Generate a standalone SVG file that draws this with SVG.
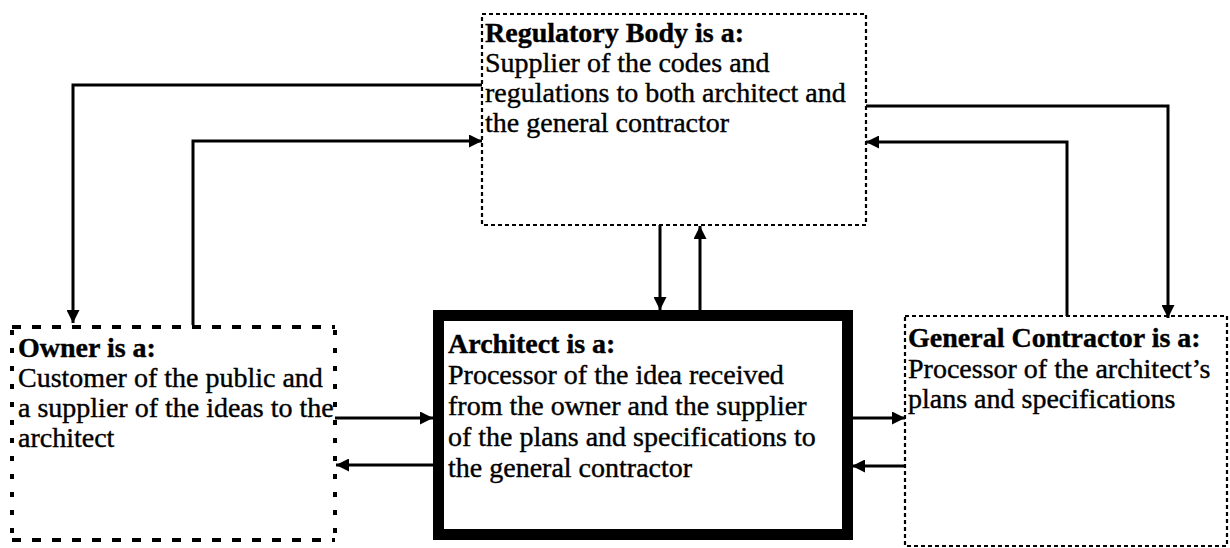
<svg xmlns="http://www.w3.org/2000/svg" width="1230" height="548" viewBox="0 0 1230 548">
<defs>
<style>
.t{font-family:"Liberation Serif","Times New Roman",serif;font-size:28px;fill:#000;stroke:#000;stroke-width:0.4}
.h{font-weight:bold}
.fine{fill:none;stroke:#000;stroke-width:2.2;stroke-dasharray:4 3}
.hd{fill:none;stroke:#000;stroke-width:4;stroke-dasharray:9 11}
.vd{fill:none;stroke:#000;stroke-width:4;stroke-dasharray:5 13}
.thick{fill:none;stroke:#000;stroke-width:11}
.c{fill:none;stroke:#000;stroke-width:3}
</style>
<marker id="ah" viewBox="0 0 13 13" refX="13" refY="6.5" markerWidth="13" markerHeight="13" markerUnits="userSpaceOnUse" orient="auto">
<path d="M0,0 L13,6.5 L0,13 Z" fill="#000"/>
</marker>
</defs>
<rect width="1230" height="548" fill="#fff"/>

<g id="regulatory">
<rect class="fine" x="482" y="14" width="384" height="211"/>
<text class="t h" x="485" y="42">Regulatory Body is a:</text>
<text class="t" x="485" y="72">Supplier of the codes and</text>
<text class="t" x="485" y="102">regulations to both architect and</text>
<text class="t" x="485" y="132">the general contractor</text>
</g>

<g id="owner">
<line class="hd" x1="12" y1="327" x2="335" y2="327"/>
<line class="hd" x1="12" y1="540" x2="335" y2="540"/>
<line class="vd" x1="12" y1="330" x2="12" y2="540"/>
<line class="vd" x1="335" y1="330" x2="335" y2="540"/>
<text class="t h" x="18" y="357">Owner is a:</text>
<text class="t" x="18" y="387">Customer of the public and</text>
<text class="t" x="18" y="417">a supplier of the ideas to the</text>
<text class="t" x="18" y="447">architect</text>
</g>

<g id="architect">
<rect class="thick" x="438.5" y="315.5" width="409" height="219"/>
<text class="t h" x="448" y="353">Architect is a:</text>
<text class="t" x="448" y="384">Processor of the idea received</text>
<text class="t" x="448" y="415">from the owner and the supplier</text>
<text class="t" x="448" y="446">of the plans and specifications to</text>
<text class="t" x="448" y="477">the general contractor</text>
</g>

<g id="general-contractor">
<rect class="fine" x="905" y="316" width="322" height="230"/>
<text class="t h" x="908" y="347">General Contractor is a:</text>
<text class="t" x="908" y="378">Processor of the architect’s</text>
<text class="t" x="908" y="408">plans and specifications</text>
</g>

<g id="connectors">
<polyline class="c" points="482,85 73,85 73,323" marker-end="url(#ah)"/>
<polyline class="c" points="193,325 193,141 482,141" marker-end="url(#ah)"/>
<polyline class="c" points="866,106 1168,106 1168,318" marker-end="url(#ah)"/>
<polyline class="c" points="1067,316 1067,142 866,142" marker-end="url(#ah)"/>
<line class="c" x1="660" y1="225" x2="660" y2="310" marker-end="url(#ah)"/>
<line class="c" x1="700" y1="310" x2="700" y2="226" marker-end="url(#ah)"/>
<line class="c" x1="335" y1="418" x2="433" y2="418" marker-end="url(#ah)"/>
<line class="c" x1="433" y1="465" x2="336" y2="465" marker-end="url(#ah)"/>
<line class="c" x1="853" y1="418" x2="905" y2="418" marker-end="url(#ah)"/>
<line class="c" x1="905" y1="466" x2="852" y2="466" marker-end="url(#ah)"/>
</g>
</svg>
